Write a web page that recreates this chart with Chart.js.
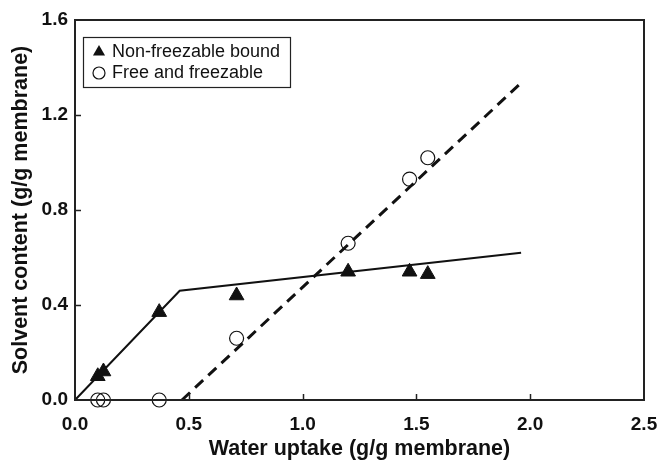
<!DOCTYPE html>
<html>
<head>
<meta charset="utf-8">
<script src="https://cdn.jsdelivr.net/npm/chart.js@4/dist/chart.umd.min.js"></script>
<style>
  html, body { margin: 0; padding: 0; background: #fff; }
  #wrap { width: 659px; height: 462px; }
</style>
</head>
<body>
<div id="wrap"><canvas id="c" width="659" height="462"></canvas></div>
<script>
// Water uptake (g/g membrane) for each membrane sample
const uptakeX = [0.10, 0.125, 0.37, 0.71, 1.20, 1.47, 1.55];
// Non-freezable bound water (g/g membrane)
const boundY = [0.10, 0.12, 0.37, 0.44, 0.54, 0.54, 0.53];
// Free and freezable water (g/g membrane)
const freeY = [0.00, 0.00, 0.00, 0.26, 0.66, 0.93, 1.02];

// Trend lines through each population
const boundFitX = [0.00, 0.46, 1.96];
const boundFitY = [0.00, 0.46, 0.62];
const freeFitX = [0.47, 1.96];
const freeFitY = [0.00, 1.335];

// Axis ticks
const xTicks = [0.0, 0.5, 1.0, 1.5, 2.0, 2.5];
const yTicks = [0.0, 0.4, 0.8, 1.2, 1.6];

const seriesLabels = ['Non-freezable bound', 'Free and freezable'];

const FONT = '"Liberation Sans", Arial, Helvetica, sans-serif';
const INK = '#111';

const pts = (xs, ys) => xs.map((x, i) => ({ x, y: ys[i] }));

// Box frame with inward tick marks
const framePlugin = {
  id: 'frame',
  afterDatasetsDraw(chart) {
    const { ctx, chartArea: a, scales } = chart;
    ctx.save();
    ctx.strokeStyle = '#222';
    ctx.lineWidth = 1.5;
    const tl = 6;
    xTicks.slice(1, -1).forEach(v => {
      const px = Math.round(scales.x.getPixelForValue(v)) + 0.5;
      ctx.beginPath(); ctx.moveTo(px, a.bottom); ctx.lineTo(px, a.bottom - tl); ctx.stroke();
    });
    yTicks.slice(1, -1).forEach(v => {
      const py = Math.round(scales.y.getPixelForValue(v)) + 0.5;
      ctx.beginPath(); ctx.moveTo(a.left, py); ctx.lineTo(a.left + tl, py); ctx.stroke();
    });
    ctx.lineWidth = 2;
    ctx.strokeRect(a.left, a.top, a.right - a.left, a.bottom - a.top);
    ctx.restore();
  }
};

// Legend drawn as a framed box inside the plot area
const legendBoxPlugin = {
  id: 'legendBox',
  afterDraw(chart) {
    const { ctx, chartArea: a } = chart;
    const bx = a.left + 8, by = a.top + 17, bw = 207, bh = 50;
    ctx.save();
    ctx.fillStyle = '#fff';
    ctx.fillRect(bx, by, bw, bh);
    ctx.strokeStyle = '#222';
    ctx.lineWidth = 1.2;
    ctx.strokeRect(bx + 0.5, by + 0.5, bw, bh);

    const mx = bx + 16;
    const rows = [by + 15, by + 36];
    // filled triangle
    const r = 7;
    ctx.fillStyle = INK;
    ctx.beginPath();
    ctx.moveTo(mx, rows[0] - r);
    ctx.lineTo(mx + r * Math.sqrt(3) / 2, rows[0] + r / 2);
    ctx.lineTo(mx - r * Math.sqrt(3) / 2, rows[0] + r / 2);
    ctx.closePath();
    ctx.fill();
    // open circle
    ctx.strokeStyle = INK;
    ctx.lineWidth = 1.2;
    ctx.beginPath();
    ctx.arc(mx, rows[1], 6, 0, Math.PI * 2);
    ctx.stroke();

    ctx.fillStyle = INK;
    ctx.font = '18px ' + FONT;
    ctx.textBaseline = 'middle';
    ctx.textAlign = 'left';
    ctx.fillText(seriesLabels[0], bx + 29, rows[0]);
    ctx.fillText(seriesLabels[1], bx + 29, rows[1]);
    ctx.restore();
  }
};

new Chart(document.getElementById('c'), {
  type: 'scatter',
  data: {
    datasets: [
      {
        label: 'bound fit',
        data: pts(boundFitX, boundFitY),
        showLine: true,
        borderColor: INK,
        borderWidth: 2,
        pointRadius: 0,
        clip: false,
        order: 3
      },
      {
        label: 'free fit',
        data: pts(freeFitX, freeFitY),
        showLine: true,
        borderColor: INK,
        borderWidth: 3,
        borderDash: [11, 7],
        pointRadius: 0,
        clip: false,
        order: 4
      },
      {
        label: seriesLabels[0],
        data: pts(uptakeX, boundY),
        pointStyle: 'triangle',
        pointRadius: 8.5,
        backgroundColor: INK,
        borderColor: INK,
        borderWidth: 1,
        clip: false,
        order: 1
      },
      {
        label: seriesLabels[1],
        data: pts(uptakeX, freeY),
        pointStyle: 'circle',
        pointRadius: 7,
        backgroundColor: 'rgba(0,0,0,0)',
        borderColor: INK,
        borderWidth: 1.2,
        clip: false,
        order: 2
      }
    ]
  },
  options: {
    responsive: false,
    animation: false,
    devicePixelRatio: 1,
    layout: { padding: { left: 0, top: 20, right: 15, bottom: 0 } },
    plugins: {
      legend: { display: false },
      tooltip: { enabled: false }
    },
    scales: {
      x: {
        type: 'linear',
        min: 0, max: 2.5,
        afterBuildTicks: s => { s.ticks = xTicks.map(v => ({ value: v })); },
        afterFit: s => { s.height = 62; s.paddingLeft = 0; s.paddingRight = 0; },
        grid: { display: false, drawTicks: false },
        border: { display: false },
        ticks: {
          padding: 13,
          color: INK,
          font: { family: FONT, size: 19, weight: 'bold' },
          callback: v => Number(v).toFixed(1)
        },
        title: {
          display: true,
          text: 'Water uptake (g/g membrane)',
          color: INK,
          font: { family: FONT, size: 21.5, weight: 'bold' },
          padding: { top: 0, bottom: 0 }
        }
      },
      y: {
        type: 'linear',
        min: 0, max: 1.6,
        afterBuildTicks: s => { s.ticks = yTicks.map(v => ({ value: v })); },
        afterFit: s => { s.width = 75; s.paddingTop = 0; s.paddingBottom = 0; },
        grid: { display: false, drawTicks: false },
        border: { display: false },
        ticks: {
          padding: 7,
          color: INK,
          font: { family: FONT, size: 19, weight: 'bold' },
          callback: v => Number(v).toFixed(1)
        },
        title: {
          display: true,
          text: 'Solvent content (g/g membrane)',
          color: INK,
          font: { family: FONT, size: 21.5, weight: 'bold' },
          padding: { top: 8, bottom: 0 }
        }
      }
    }
  },
  plugins: [framePlugin, legendBoxPlugin]
});
</script>
</body>
</html>
